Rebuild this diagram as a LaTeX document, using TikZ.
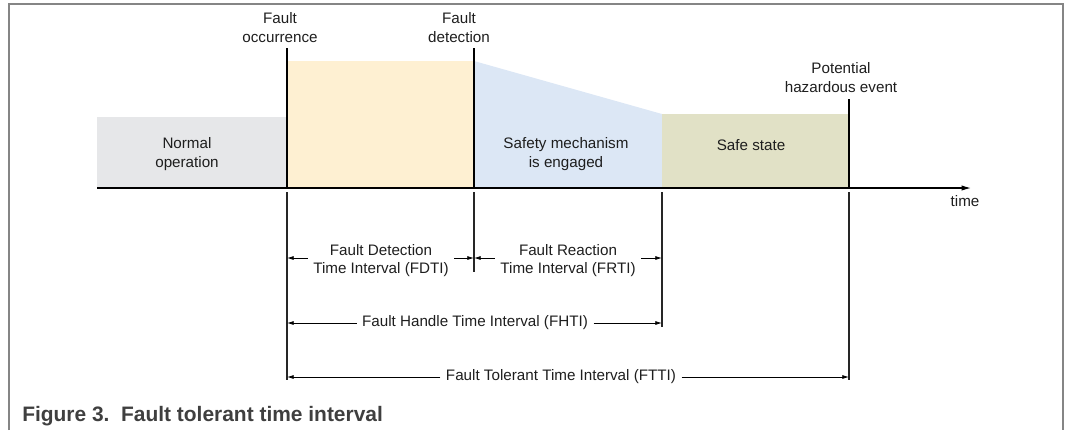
\documentclass[tikz,border=0pt]{standalone}
\usepackage{fontspec}
\setmainfont{Liberation Sans}
\usetikzlibrary{arrows.meta}
\definecolor{txt}{HTML}{1E1E1E}
\definecolor{framec}{HTML}{858585}
\definecolor{normalc}{HTML}{E6E7E9}
\definecolor{faultc}{HTML}{FEF0D2}
\definecolor{safetyc}{HTML}{DCE7F5}
\definecolor{safec}{HTML}{E1E1C6}
\definecolor{capc}{HTML}{3F3F3F}
\begin{document}
\begin{tikzpicture}[x=0.75pt,y=-0.75pt,
  lbl/.style={font=\fontsize{11.4}{14}\selectfont, text=txt, align=center, inner sep=0pt},
  dim/.style={font=\fontsize{11.4}{13.5}\selectfont, text=txt, align=center, inner xsep=4pt, inner ysep=0pt},
  evmark/.style={line width=1.6pt, draw=black},
  extline/.style={line width=0.8pt, draw=black!85},
  dimarrow/.style={-{Latex[length=5pt,width=3pt]}, line width=0.6pt, draw=black}]
\useasboundingbox (0,0) rectangle (1066,430);
% frame
\draw[framec, line width=1.2pt] (9,430) -- (9,4) -- (1063,4) -- (1063,430);
% time coordinates
\coordinate (t0) at (287,188);
\coordinate (t1) at (474,188);
\coordinate (t2) at (662,188);
\coordinate (t3) at (849,188);
% regions
\fill[normalc] (97,117) rectangle (287,188);
\fill[faultc] (287,61) rectangle (474,188);
\fill[safetyc] (474,61) -- (662,114) -- (662,188) -- (474,188) -- cycle;
\fill[safec] (662,114) rectangle (849,188);
% axis
\coordinate (axs) at (97,188);
\coordinate (axe) at (971,188);
\draw[-{Latex[length=7pt,width=4pt]}, line width=0.9pt] (axs) -- (axe);
\node[lbl, anchor=north] (time) at (965,195) {time};
% event marks
\draw[evmark] (287,48) -- (t0);
\draw[evmark] (474,48) -- (t1);
\draw[evmark] (849,99) -- (t3);
% extension lines
\coordinate (e0) at (287,380);
\coordinate (e1) at (474,272);
\coordinate (e2) at (662,327);
\coordinate (e3) at (849,380);
\draw[extline] (287,192) -- (e0);
\draw[extline] (474,192) -- (e1);
\draw[extline] (662,192) -- (e2);
\draw[extline] (849,192) -- (e3);
% top labels
\node[lbl, anchor=south] (occ) at (280,43) {Fault\\occurrence};
\node[lbl, anchor=south] (det) at (459,43) {Fault\\detection};
\node[lbl, anchor=south] (haz) at (841,93) {Potential\\hazardous event};
% region labels
\node[lbl] (normal) at (187,154) {Normal\\operation};
\node[lbl] (safety) at (566,154) {Safety mechanism\\is engaged};
\node[lbl] (safe) at (751,145) {Safe state};
% dimension lines
\node[dim] (fdti) at (381,261) {Fault Detection\\Time Interval (FDTI)};
\draw[dimarrow] (fdti.west |- 0,258) -- (287,258);
\draw[dimarrow] (fdti.east |- 0,258) -- (474,258);
\node[dim] (frti) at (568,261) {Fault Reaction\\Time Interval (FRTI)};
\draw[dimarrow] (frti.west |- 0,258) -- (474,258);
\draw[dimarrow] (frti.east |- 0,258) -- (662,258);
\node[dim] (fhti) at (475,323) {Fault Handle Time Interval (FHTI)};
\draw[dimarrow] (fhti.west) -- (287,323);
\draw[dimarrow] (fhti.east) -- (662,323);
\node[dim] (ftti) at (561,377) {Fault Tolerant Time Interval (FTTI)};
\draw[dimarrow] (ftti.west) -- (287,377);
\draw[dimarrow] (ftti.east) -- (849,377);
% caption
\node[anchor=base west, inner sep=0pt, text=capc, font=\fontsize{15.7}{18}\selectfont\bfseries] (cap) at (22,421) {Figure 3.\ \ Fault tolerant time interval};
\end{tikzpicture}
\end{document}
